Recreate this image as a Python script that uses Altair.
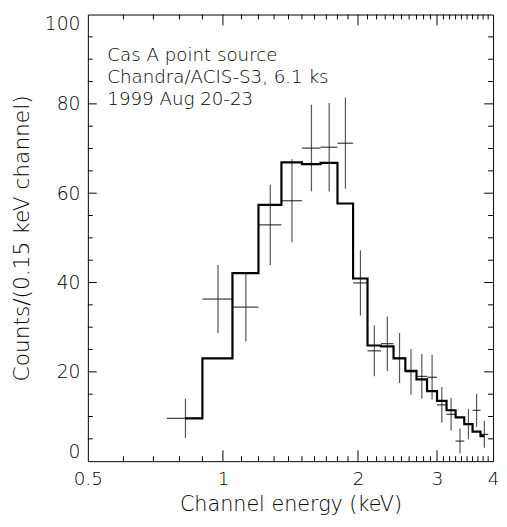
import altair as alt
import pandas as pd

# ---- data ----
centers = [0.825, 0.975, 1.125, 1.275, 1.425, 1.575, 1.725, 1.875, 2.025, 2.175,
           2.325, 2.475, 2.625, 2.775, 2.925, 3.075, 3.225, 3.375, 3.525, 3.675, 3.825]
half_width = 0.075
counts = [9.6, 36.3, 34.5, 52.9, 58.3, 70.1, 70.3, 71.2, 39.9, 24.7,
          26.3, 23.1, 20.0, 19.0, 18.8, 12.6, 10.5, 4.5, 8.3, 11.4, 6.0]
errors = [4.4, 7.6, 7.7, 9.0, 9.3, 9.7, 9.9, 10.2, 7.3, 5.7,
          6.1, 5.6, 5.1, 5.0, 5.0, 4.0, 3.7, 2.8, 3.4, 3.7, 3.0]
model = [9.6, 23.0, 42.1, 57.4, 66.9, 66.5, 66.8, 57.7, 40.9, 25.9,
         25.7, 23.0, 20.2, 18.3, 15.7, 13.5, 11.4, 9.8, 8.3, 6.6, 5.6]

x_labels = [0.5, 1, 2, 3, 4]
x_major = [1, 2, 3]
x_minor = [0.6, 0.7, 0.8, 0.9, 1.1, 1.2, 1.3, 1.4, 1.5, 1.6, 1.7, 1.8, 1.9,
           2.1, 2.2, 2.3, 2.4, 2.5, 2.6, 2.7, 2.8, 2.9,
           3.1, 3.2, 3.3, 3.4, 3.5, 3.6, 3.7, 3.8, 3.9]
y_labels = [0, 20, 40, 60, 80, 100]
y_major = [20, 40, 60, 80]
y_minor = [5, 10, 15, 25, 30, 35, 45, 50, 55, 65, 70, 75, 85, 90, 95]
notes = ["Cas A point source", "Chandra/ACIS-S3, 6.1 ks", "1999 Aug 20-23"]

W, H = 411, 453
FONT = "DejaVu Sans"
WEIGHT = 200

df = pd.DataFrame({"e": centers, "c": counts, "err": errors})
df["lo"] = df["c"] - df["err"]
df["hi"] = df["c"] + df["err"]
df["elo"] = df["e"] - half_width
df["ehi"] = df["e"] + half_width

rows = []
n = len(centers)
for i, (e, m) in enumerate(zip(centers, model)):
    left = e if i == 0 else e - half_width
    right = e if i == n - 1 else e + half_width
    rows.append({"e": left, "m": m, "o": 2 * i})
    rows.append({"e": right, "m": m, "o": 2 * i + 1})
step = pd.DataFrame(rows)

xscale = alt.Scale(type="log", domain=[0.5, 4], nice=False, zero=False)
yscale = alt.Scale(domain=[0, 100], nice=False, zero=False)

x_axis = alt.Axis(values=x_labels, format="~g", title="Channel energy (keV)",
                  ticks=False, tickSize=0, domain=False, grid=False,
                  labelPadding=9, labelFontSize=18.5, labelFont=FONT, labelColor="black",
                  labelFontWeight=WEIGHT, labelFlush=False, labelOverlap=False,
                  titleFont=FONT, titleFontSize=21, titleFontWeight=WEIGHT,
                  titleColor="black", titleY=50, titleBaseline="alphabetic")
y_axis = alt.Axis(values=y_labels, title="Counts/(0.15 keV channel)",
                  ticks=False, tickSize=0, domain=False, grid=False,
                  labelPadding=8, labelFontSize=19, labelFont=FONT, labelColor="black",
                  labelFontWeight=WEIGHT, labelFlush=True, labelOverlap=False,
                  titleFont=FONT, titleFontSize=22, titleFontWeight=WEIGHT,
                  titleColor="black", titleX=-60, titleY=H / 2, titleBaseline="alphabetic")

vbars = alt.Chart(df).mark_rule(color="#555555", strokeWidth=1.2).encode(
    x=alt.X("e:Q", scale=xscale, axis=x_axis),
    y=alt.Y("lo:Q", scale=yscale, axis=y_axis),
    y2="hi:Q",
)
hbars = alt.Chart(df).mark_rule(color="#111111", strokeWidth=1).encode(
    x=alt.X("elo:Q", scale=xscale, axis=x_axis),
    x2="ehi:Q",
    y=alt.Y("c:Q", scale=yscale, axis=y_axis),
)
line = alt.Chart(step).mark_line(color="black", strokeWidth=2.2).encode(
    x=alt.X("e:Q", scale=xscale, axis=x_axis),
    y=alt.Y("m:Q", scale=yscale, axis=y_axis),
    order="o:Q",
)


def xticks(vals, length):
    base = alt.Chart(pd.DataFrame({"v": vals})).mark_rule(color="black", strokeWidth=1)
    xe = alt.X("v:Q", scale=xscale, axis=x_axis)
    return [base.encode(x=xe, y=alt.value(H), y2=alt.value(H - length)),
            base.encode(x=xe, y=alt.value(0), y2=alt.value(length))]


def yticks(vals, length):
    base = alt.Chart(pd.DataFrame({"v": vals})).mark_rule(color="black", strokeWidth=1)
    ye = alt.Y("v:Q", scale=yscale, axis=y_axis)
    return [base.encode(y=ye, x=alt.value(0), x2=alt.value(length)),
            base.encode(y=ye, x=alt.value(W), x2=alt.value(W - length))]


ticks = xticks(x_major, 11) + xticks(x_minor, 5) + yticks(y_major, 9) + yticks(y_minor, 5)

note = alt.Chart(pd.DataFrame({"a": [0]})).mark_text(
    text=notes, align="left", baseline="alphabetic", lineHeight=22.5,
    fontSize=18.5, font=FONT, fontWeight=WEIGHT, color="black",
).encode(x=alt.value(19.7), y=alt.value(47))

chart = alt.layer(vbars, hbars, line, *ticks, note).properties(
    width=W, height=H,
    autosize=alt.AutoSizeParams(type="none"),
    padding={"left": 81, "top": 3, "right": 6, "bottom": 54},
).configure_view(stroke="black", strokeWidth=1)

chart.save("out.html", embed_options={"renderer": "svg", "actions": False})
